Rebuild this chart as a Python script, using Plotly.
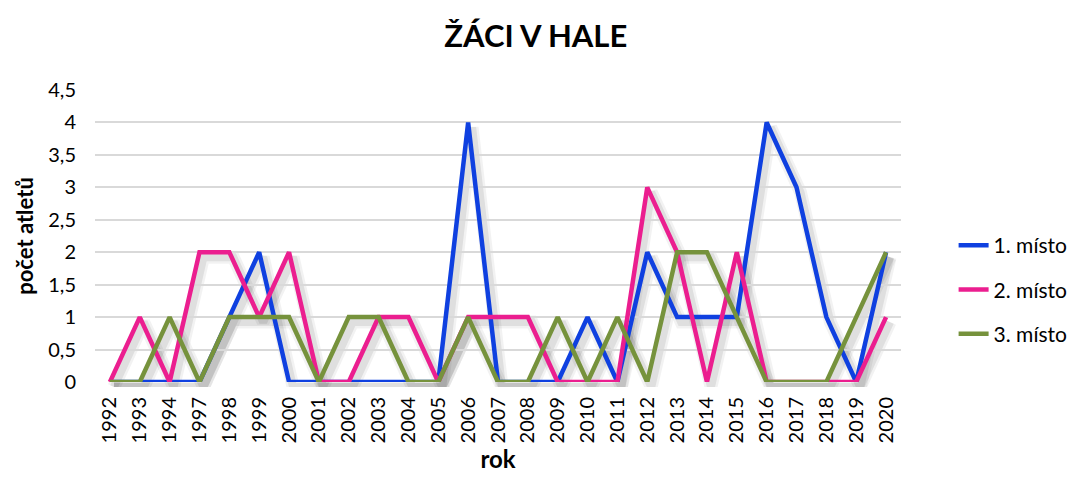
import plotly.graph_objects as go

years = ["1992", "1993", "1994", "1997", "1998", "1999", "2000", "2001", "2002",
         "2003", "2004", "2005", "2006", "2007", "2008", "2009", "2010", "2011",
         "2012", "2013", "2014", "2015", "2016", "2017", "2018", "2019", "2020"]
misto1 = [0, 0, 0, 0, 1, 2, 0, 0, 0, 0, 0, 0, 4, 0, 0, 0, 1, 0, 2, 1, 1, 1, 4, 3, 1, 0, 2]
misto2 = [0, 1, 0, 2, 2, 1, 2, 0, 0, 1, 1, 0, 1, 1, 1, 0, 0, 0, 3, 2, 0, 2, 0, 0, 0, 0, 1]
misto3 = [0, 0, 1, 0, 1, 1, 1, 0, 1, 1, 0, 0, 1, 0, 0, 1, 0, 1, 0, 2, 2, 1, 0, 0, 0, 1, 2]
y_ticks = [0, 0.5, 1, 1.5, 2, 2.5, 3, 3.5, 4, 4.5]
y_labels = ["0", "0,5", "1", "1,5", "2", "2,5", "3", "3,5", "4", "4,5"]

series = [("1. místo", misto1, "#0F40E0"),
          ("2. místo", misto2, "#EB1E8F"),
          ("3. místo", misto3, "#76923C")]

W, H = 1078, 479
SX, SY = 4, 5  # shadow offset in px
ml, mr, mt, mb = 95, 177 - SX, 90, 97 - SY
pw, ph = W - ml - mr, H - mt - mb
fx, fy = SX / pw, SY / ph

fig = go.Figure()
# soft shadows (drawn on a slightly shifted, invisible subplot)
for width, alpha in [(13, 0.05), (8, 0.08)]:
    for name, vals, col in series:
        fig.add_trace(go.Scatter(x=years, y=vals, mode="lines", showlegend=False,
                                 hoverinfo="skip", xaxis="x", yaxis="y",
                                 line=dict(color=f"rgba(0,0,0,{alpha})", width=width)))
for i, (name, vals, col) in enumerate(series):
    fig.add_trace(go.Scatter(x=years, y=vals, mode="lines", name=name,
                             legendgroup=f"g{i}", xaxis="x2", yaxis="y2",
                             line=dict(color=col, width=4.5)))

font = "Lato, 'Open Sans', sans-serif"
fig.update_layout(
    width=W, height=H,
    margin=dict(l=ml, r=mr, t=mt, b=mb, autoexpand=False),
    paper_bgcolor="white", plot_bgcolor="rgba(0,0,0,0)",
    title=dict(text="<b>ŽÁCI V HALE</b>", x=0.497, xanchor="center", y=0.925,
               yanchor="middle", font=dict(family=font, size=31, color="black")),
    font=dict(family=font, size=20, color="black"),
    xaxis=dict(domain=[fx, 1], type="category", range=[-0.5, 26.5],
               visible=False, fixedrange=True),
    yaxis=dict(domain=[0, 1 - fy], range=[0, 4.5], visible=False, fixedrange=True),
    xaxis2=dict(domain=[0, 1 - fx], anchor="y2", type="category", range=[-0.5, 26.5],
                tickangle=-90, showgrid=False, showline=False, zeroline=False,
                ticks="", tickfont=dict(size=20), ticklabelstandoff=10,
                automargin=False,
                title=dict(text="<b>rok</b>", font=dict(size=24), standoff=8)),
    yaxis2=dict(domain=[fy, 1], anchor="x2", range=[0, 4.5], tickvals=y_ticks,
                ticktext=y_labels, showgrid=True, gridcolor="#D9D9D9", gridwidth=1.5,
                zeroline=False, showline=False, ticks="", tickfont=dict(size=20),
                ticklabelstandoff=18, automargin=False,
                title=dict(text="<b>počet atletů</b>", font=dict(size=22), standoff=8)),
    legend=dict(x=1.06, y=0.328, xanchor="left", yanchor="middle",
                font=dict(size=21), tracegroupgap=14, bgcolor="rgba(0,0,0,0)"),
    showlegend=True,
)
fig.write_html("out.html", config={"displayModeBar": False})

# remove the browser's default 8px body margin so the figure sits at (0, 0)
with open("out.html", "r", encoding="utf-8") as f:
    html = f.read()
html = html.replace("<body>", '<body style="margin:0;padding:0;">', 1)
with open("out.html", "w", encoding="utf-8") as f:
    f.write(html)
